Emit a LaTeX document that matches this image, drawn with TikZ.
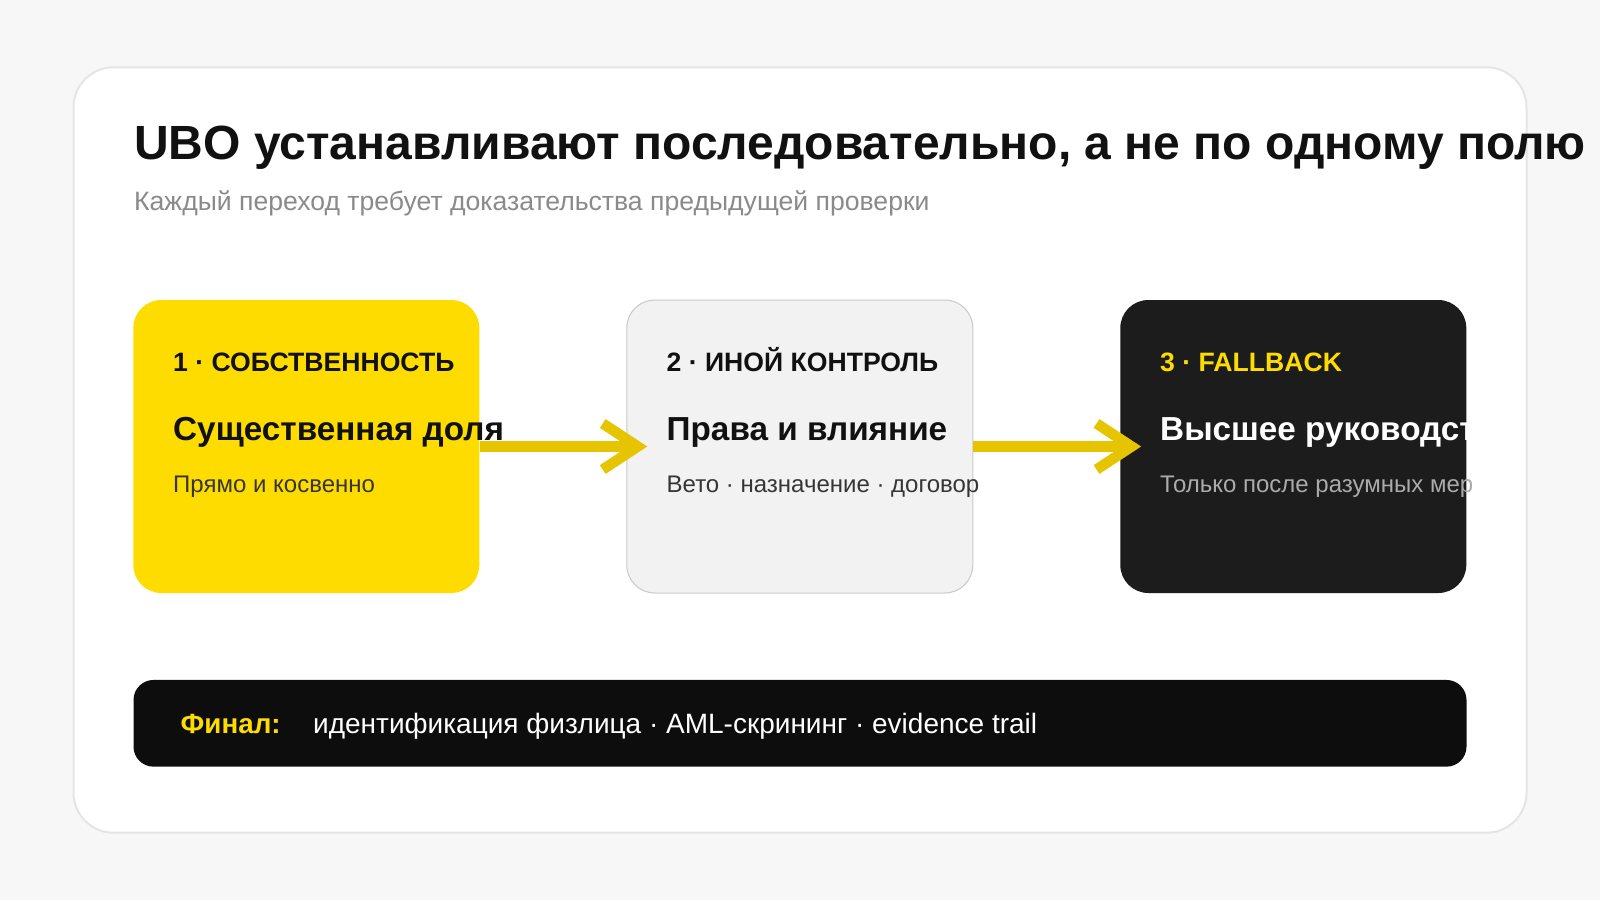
\documentclass[tikz,border=0pt]{standalone}
\usepackage{fontspec}
\setmainfont{Liberation Sans}
\usetikzlibrary{arrows.meta}

\definecolor{bggray}{HTML}{F7F7F7}
\definecolor{frame}{HTML}{E5E5E5}
\definecolor{ink}{HTML}{111111}
\definecolor{mute}{HTML}{8A8A8A}
\definecolor{gold}{HTML}{FFDC00}
\definecolor{arrowgold}{HTML}{E6C400}
\definecolor{pale}{HTML}{F2F2F2}
\definecolor{paleline}{HTML}{C9C9C9}
\definecolor{coal}{HTML}{1C1C1C}
\definecolor{night}{HTML}{0D0D0D}
\definecolor{ash}{HTML}{ABABAB}

\tikzset {
    card/.style={rectangle, rounded corners=28pt, minimum width=346pt, minimum height=293pt, inner sep=0pt},
    txt/.style={anchor=base west, inner sep=0pt},
    lbl/.style={txt, font=\fontsize{26.6}{30}\selectfont\bfseries},
    head/.style={txt, font=\fontsize{33.3}{38}\selectfont\bfseries},
    note/.style={txt, font=\fontsize{24}{28}\selectfont},
    flow/.style={line width=10.5pt, draw=arrowgold, -{Straight Barb[length=35pt, width=46pt, line width=10.5pt]}},
}

\begin{document}
\begin{tikzpicture}[x=1pt, y=-1pt]
    \useasboundingbox (0, 0) rectangle (1600, 900);
    \fill [bggray] (0, 0) rectangle (1600, 900);
    \draw [frame, line width=2pt, fill=white, rounded corners=40pt] (73.5, 67.3) rectangle (1526.5, 832.7);

    \node (title) at (134, 159) [txt, text=ink, font=\fontsize{48}{56}\selectfont\bfseries] {UBO устанавливают последовательно, а не по одному полю};
    \node (subtitle) at (134, 210) [txt, text=mute, font=\fontsize{26.6}{30}\selectfont] {Каждый переход требует доказательства предыдущей проверки};

    % three steps
    \node (own) at (306.3, 446.5) [card, fill=gold] {};
    \node (ctrl) at (799.8, 446.5) [card, fill=pale, draw=paleline, line width=1pt] {};
    \node (fall) at (1293.3, 446.5) [card, fill=coal] {};

    \draw [flow, shorten >=-21pt] (own.east) -- (ctrl.west);
    \draw [flow, shorten >=-21pt] (ctrl.east) -- (fall.west);

    \node (ownlbl) at (173, 371) [lbl, text=ink] {1 · СОБСТВЕННОСТЬ};
    \node (ownhead) at (173, 440) [head, text=ink] {Существенная доля};
    \node (ownnote) at (173, 492.5) [note, text=ink!85] {Прямо и косвенно};

    \node (ctrllbl) at (666.5, 371) [lbl, text=ink] {2 · ИНОЙ КОНТРОЛЬ};
    \node (ctrlhead) at (666.5, 440) [head, text=ink] {Права и влияние};
    \node (ctrlnote) at (666.5, 492.5) [note, text=ink!85] {Вето · назначение · договор};

    \node (falllbl) at (1160, 371) [lbl, text=gold] {3 · FALLBACK};
    \begin{scope}
        \clip (1120, 300) rectangle (1466.3, 593);
        \node (fallhead) at (1160, 440) [head, text=white] {Высшее руководство};
    \end{scope}
    \begin{scope}
        \clip (1120, 300) rectangle (1471, 593);
        \node (fallnote) at (1160, 492.5) [note, text=ash] {Только после разумных мер};
    \end{scope}

    % final bar
    \node (final) at (800, 723.3) [rectangle, rounded corners=20pt, fill=night, minimum width=1333pt, minimum height=86.7pt, inner sep=0pt] {};
    \node (finlbl) at (180.5, 733) [txt, text=gold, font=\fontsize{27.8}{32}\selectfont\bfseries] {Финал:};
    \node (fintxt) at (313, 733) [txt, text=white, font=\fontsize{28}{32}\selectfont] {идентификация физлица · AML-скрининг · evidence trail};
\end{tikzpicture}
\end{document}
